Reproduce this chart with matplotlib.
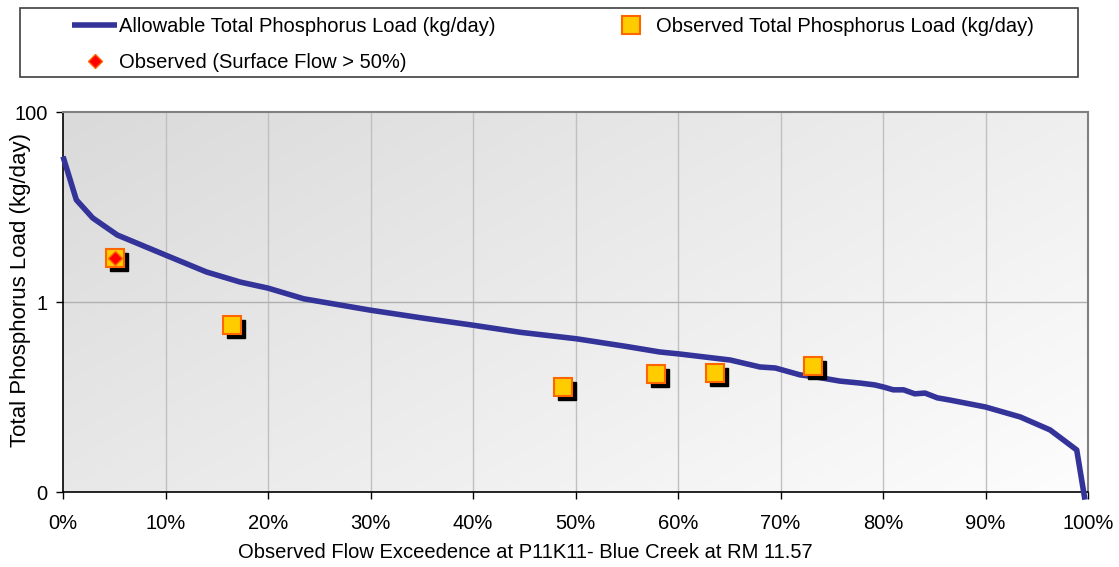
import numpy as np
import matplotlib
matplotlib.use("Agg")
import matplotlib.pyplot as plt
import matplotlib.transforms as mtransforms
from matplotlib.patches import Rectangle

plt.rcParams["font.family"] = ["Liberation Sans", "DejaVu Sans"]
plt.rcParams["font.size"] = 14.5

# ---- data ----
curve_pct = [0, 1.3, 2.9, 5.3, 10, 14, 17.3, 20, 23.5, 30, 35, 40, 44.6, 50.1, 55,
             58.2, 60.1, 65.1, 68.0, 69.5, 71.9, 73.4, 75.8, 77.8, 79.2, 80.1, 81.0,
             82.0, 83.1, 84.1, 85.3, 86.5, 90, 93.4, 96.3, 98.9, 99.7]
curve_load = [34, 11.9, 7.66, 5.07, 3.12, 2.07, 1.62, 1.40, 1.08, 0.82, 0.68, 0.57,
              0.48, 0.41, 0.34, 0.298, 0.284, 0.245, 0.207, 0.202, 0.171, 0.163,
              0.147, 0.14, 0.134, 0.127, 0.119, 0.119, 0.108, 0.110, 0.098, 0.093,
              0.0785, 0.0616, 0.045, 0.0277, 0.0083]

obs_pct = [5.1, 16.5, 48.8, 57.9, 63.6, 73.2]
obs_load = [2.9, 0.57, 0.127, 0.175, 0.179, 0.212]

surf_pct = [5.1]
surf_load = [2.9]

x_ticks = [0, 10, 20, 30, 40, 50, 60, 70, 80, 90, 100]
y_ticks = [0.01, 1, 100]
y_tick_labels = ["0", "1", "100"]

W, H = 1119, 567
fig = plt.figure(figsize=(W / 100, H / 100), dpi=100)
ax = fig.add_axes([63 / W, 1 - 492 / H, (1088 - 63) / W, (492 - 112) / H])

# gradient background (darker top-left -> white bottom-right)
gx, gy = np.meshgrid(np.linspace(0, 1, 200), np.linspace(0, 1, 200))
g = 0.6 * gx + 0.4 * gy
ax.imshow(g, extent=[0, 1, 0, 1], transform=ax.transAxes, origin="upper",
          cmap=matplotlib.colors.LinearSegmentedColormap.from_list(
              "bg", ["#dadada", "#fdfdfd"]),
          aspect="auto", zorder=0, interpolation="bilinear")

ax.set_yscale("log")
ax.set_xlim(0, 100)
ax.set_ylim(0.01, 100)

for xv in x_ticks[1:-1]:
    ax.axvline(xv, color="#c0c0c0", lw=1, zorder=1)
ax.axhline(1, color="#b0b0b0", lw=1, zorder=1)

curve, = ax.plot(curve_pct, curve_load, color="#333399", lw=4, zorder=3, clip_on=False,
                 solid_capstyle="butt", solid_joinstyle="round",
                 label="Allowable Total Phosphorus Load (kg/day)")

# shadows behind the observed squares
shadow = ax.transData + mtransforms.ScaledTranslation(4 / 100, -4 / 100, fig.dpi_scale_trans)
ax.plot(obs_pct, obs_load, ls="none", marker="s", ms=12.5, mfc="black", mec="black",
        transform=shadow, zorder=4)
sq, = ax.plot(obs_pct, obs_load, ls="none", marker="s", ms=12.5, mfc="#FFCC00",
              mec="#FF6600", mew=1.5, zorder=5,
              label="Observed Total Phosphorus Load (kg/day)")
dm, = ax.plot(surf_pct, surf_load, ls="none", marker="D", ms=7, mfc="#FF0000",
              mec="#FF6600", mew=1, zorder=6, label="Observed (Surface Flow > 50%)")

ax.set_xticks(x_ticks)
ax.set_xticklabels([f"{v}%" for v in x_ticks])
ax.set_yticks(y_ticks)
ax.set_yticklabels(y_tick_labels)
ax.yaxis.set_minor_locator(matplotlib.ticker.NullLocator())
ax.tick_params(axis="x", direction="out", length=5, width=1, color="black", pad=11)
ax.tick_params(axis="y", direction="out", length=5, width=1, color="black", pad=6)

for s in ["left", "bottom"]:
    ax.spines[s].set_color("black")
    ax.spines[s].set_linewidth(1.2)
for s in ["top", "right"]:
    ax.spines[s].set_color("#808080")
    ax.spines[s].set_linewidth(1.5)

ax.set_xlabel("Observed Flow Exceedence at P11K11- Blue Creek at RM 11.57")
ax.xaxis.set_label_coords((525 - 63) / (1088 - 63), -(553 - 492) / (492 - 112),
                          transform=ax.transAxes)
ax.xaxis.label.set_va("center")
ax.set_ylabel("Total Phosphorus Load (kg/day)", fontsize=16)
ax.yaxis.set_label_coords((21 - 63) / (1088 - 63), (492 - 290) / (492 - 112),
                          transform=ax.transAxes)
ax.yaxis.label.set_va("center")

# legend box
fig.patches.append(Rectangle((20 / W, 1 - 77 / H), (1078 - 20) / W, 69 / H,
                             transform=fig.transFigure, fill=False,
                             edgecolor="#404040", lw=1.2))
fig.legend([curve, dm, sq],
           [curve.get_label(), dm.get_label(), sq.get_label()],
           ncol=2, loc="upper left", bbox_to_anchor=(62 / W, 1 - 7 / H),
           frameon=False, borderpad=0, handlelength=2.25, handletextpad=0.1,
           columnspacing=5.6, labelspacing=0.85, fontsize=14.5)

fig.savefig("out.png", dpi=100)
